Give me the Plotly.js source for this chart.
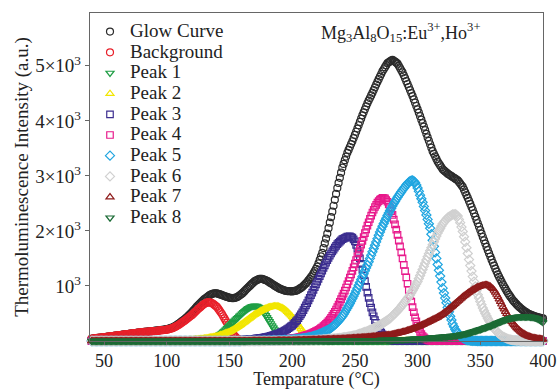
<!DOCTYPE html>
<html>
<head>
<meta charset="utf-8">
<script src="https://cdn.plot.ly/plotly-3.0.1.min.js"></script>
<style>html,body{margin:0;padding:0;background:#fff;}#chart{width:560px;height:390px;}</style>
</head>
<body>
<div id="chart"></div>
<script>
// Temperature (°C)
const temperature = [
40,41,42,43,44,45,46,47,48,49,
50,51,52,53,54,55,56,57,58,59,
60,61,62,63,64,65,66,67,68,69,
70,71,72,73,74,75,76,77,78,79,
80,81,82,83,84,85,86,87,88,89,
90,91,92,93,94,95,96,97,98,99,
100,101,102,103,104,105,106,107,108,109,
110,111,112,113,114,115,116,117,118,119,
120,121,122,123,124,125,126,127,128,129,
130,131,132,133,134,135,136,137,138,139,
140,141,142,143,144,145,146,147,148,149,
150,151,152,153,154,155,156,157,158,159,
160,161,162,163,164,165,166,167,168,169,
170,171,172,173,174,175,176,177,178,179,
180,181,182,183,184,185,186,187,188,189,
190,191,192,193,194,195,196,197,198,199,
200,201,202,203,204,205,206,207,208,209,
210,211,212,213,214,215,216,217,218,219,
220,221,222,223,224,225,226,227,228,229,
230,231,232,233,234,235,236,237,238,239,
240,241,242,243,244,245,246,247,248,249,
250,251,252,253,254,255,256,257,258,259,
260,261,262,263,264,265,266,267,268,269,
270,271,272,273,274,275,276,277,278,279,
280,281,282,283,284,285,286,287,288,289,
290,291,292,293,294,295,296,297,298,299,
300,301,302,303,304,305,306,307,308,309,
310,311,312,313,314,315,316,317,318,319,
320,321,322,323,324,325,326,327,328,329,
330,331,332,333,334,335,336,337,338,339,
340,341,342,343,344,345,346,347,348,349,
350,351,352,353,354,355,356,357,358,359,
360,361,362,363,364,365,366,367,368,369,
370,371,372,373,374,375,376,377,378,379,
380,381,382,383,384,385,386,387,388,389,
390,391,392,393,394,395,396,397,398,399,
400];

const glowCurve = [
40,43,46,49,52,55,58,61,64,67,
70,73,76,79,82,85,88,91,94,97,
100,103,106,109,112,115,118,121,124,127,
130,133,136,139,142,145,148,151,154,157,
160,162,165,167,170,172,175,177,180,182,
185,188,190,193,195,198,201,204,208,211,
215,221,227,234,242,250,262,276,290,305,
320,337,355,373,391,410,431,452,474,497,
520,546,572,598,624,650,672,694,716,738,
760,777,794,811,828,845,853,861,868,868,
866,858,850,842,834,825,817,809,801,793,
785,782,780,778,783,789,795,811,827,844,
860,883,906,929,952,975,997,1019,1041,1063,
1085,1097,1108,1119,1130,1130,1130,1121,1112,1104,
1095,1080,1065,1050,1035,1020,1006,992,978,964,
950,942,934,926,918,910,908,906,904,902,
900,905,910,915,920,935,950,965,980,1002,
1025,1047,1070,1100,1130,1160,1190,1230,1270,1310,
1350,1412,1475,1538,1600,1688,1775,1862,1950,2050,
2150,2250,2350,2458,2565,2672,2780,2872,2965,3058,
3150,3218,3285,3352,3420,3472,3525,3578,3630,3688,
3745,3802,3860,3920,3980,4040,4100,4155,4210,4265,
4320,4368,4415,4462,4510,4560,4610,4660,4710,4758,
4805,4852,4900,4938,4975,5012,5050,5065,5080,5095,
5110,5092,5075,5058,5040,5000,4960,4920,4880,4828,
4775,4722,4670,4615,4560,4505,4450,4390,4330,4270,
4210,4148,4085,4022,3960,3895,3830,3765,3700,3638,
3575,3512,3450,3402,3355,3308,3260,3225,3190,3155,
3120,3100,3080,3060,3040,3025,3010,2995,2980,2965,
2950,2935,2920,2890,2860,2830,2800,2750,2700,2650,
2600,2545,2490,2435,2380,2320,2260,2200,2140,2078,
2015,1952,1890,1830,1770,1710,1650,1592,1535,1478,
1420,1368,1315,1262,1210,1165,1120,1075,1030,990,
950,910,870,838,805,772,740,715,690,665,
640,620,600,580,560,545,530,515,500,490,
480,470,460,452,445,438,430,425,420,415,
410];

const background = [
40,43,46,49,52,55,58,61,64,67,
70,73,76,79,82,85,88,91,94,97,
100,103,106,109,112,115,118,121,124,127,
130,133,136,139,142,145,148,151,154,157,
160,162,164,166,168,170,172,174,176,178,
180,182,185,187,190,192,195,197,200,202,
205,210,216,222,228,238,249,260,272,286,
300,316,332,348,364,380,398,416,434,452,
470,492,514,536,558,580,600,620,640,658,
675,686,697,708,702,696,690,673,655,638,
620,588,555,522,490,450,410,370,330,290,
250,208,165,130,95,72,50,36,22,15,
9,6,4,3,2,1,1,0,0,0,
0,0,0,0,0,0,0,0,0,0,
0,0,0,0,0,0,0,0,0,0,
0,0,0,0,0,0,0,0,0,0,
0,0,0,0,0,0,0,0,0,0,
0,0,0,0,0,0,0,0,0,0,
0,0,0,0,0,0,0,0,0,0,
0,0,0,0,0,0,0,0,0,0,
0,0,0,0,0,0,0,0,0,0,
0,0,0,0,0,0,0,0,0,0,
0,0,0,0,0,0,0,0,0,0,
0,0,0,0,0,0,0,0,0,0,
0,0,0,0,0,0,0,0,0,0,
0,0,0,0,0,0,0,0,0,0,
0,0,0,0,0,0,0,0,0,0,
0,0,0,0,0,0,0,0,0,0,
0,0,0,0,0,0,0,0,0,0,
0,0,0,0,0,0,0,0,0,0,
0,0,0,0,0,0,0,0,0,0,
0,0,0,0,0,0,0,0,0,0,
0,0,0,0,0,0,0,0,0,0,
0,0,0,0,0,0,0,0,0,0,
0,0,0,0,0,0,0,0,0,0,
0,0,0,0,0,0,0,0,0,0,
0];

const peak1 = [
0,0,0,0,0,0,0,0,0,0,
0,0,0,0,0,0,0,0,0,0,
0,0,0,0,0,0,0,0,0,0,
0,0,0,0,0,0,0,0,0,0,
0,0,0,0,0,0,0,0,0,0,
0,0,0,0,0,0,0,0,0,0,
1,1,1,1,1,1,1,2,2,2,
2,2,3,3,3,3,4,4,4,5,
5,6,7,8,9,10,12,14,16,18,
20,23,27,32,38,44,51,58,65,72,
80,95,110,127,145,165,185,207,230,252,
275,297,320,342,365,387,410,432,455,477,
500,520,540,559,578,593,608,619,630,635,
640,636,632,619,605,583,560,530,500,465,
430,392,355,318,280,242,205,172,140,114,
88,69,50,38,26,19,12,8,5,3,
2,1,1,0,0,0,0,0,0,0,
0,0,0,0,0,0,0,0,0,0,
0,0,0,0,0,0,0,0,0,0,
0,0,0,0,0,0,0,0,0,0,
0,0,0,0,0,0,0,0,0,0,
0,0,0,0,0,0,0,0,0,0,
0,0,0,0,0,0,0,0,0,0,
0,0,0,0,0,0,0,0,0,0,
0,0,0,0,0,0,0,0,0,0,
0,0,0,0,0,0,0,0,0,0,
0,0,0,0,0,0,0,0,0,0,
0,0,0,0,0,0,0,0,0,0,
0,0,0,0,0,0,0,0,0,0,
0,0,0,0,0,0,0,0,0,0,
0,0,0,0,0,0,0,0,0,0,
0,0,0,0,0,0,0,0,0,0,
0,0,0,0,0,0,0,0,0,0,
0,0,0,0,0,0,0,0,0,0,
0,0,0,0,0,0,0,0,0,0,
0,0,0,0,0,0,0,0,0,0,
0];

const peak2 = [
0,0,0,0,0,0,0,0,0,0,
0,0,0,0,0,0,0,0,0,0,
0,0,0,0,0,0,0,0,0,0,
0,0,0,0,0,0,0,0,0,0,
0,0,0,0,0,0,0,0,0,0,
1,1,1,1,1,1,1,1,2,2,
2,3,3,4,4,5,5,6,6,7,
8,9,10,11,12,13,14,16,17,19,
20,22,24,26,28,31,33,36,38,41,
44,48,51,55,59,63,67,71,75,80,
84,92,100,108,116,125,133,142,150,158,
165,178,191,205,218,232,247,262,278,294,
310,327,344,361,378,395,412,429,446,463,
480,493,506,519,532,545,557,568,580,590,
600,607,614,620,624,628,630,630,630,626,
620,610,600,588,575,555,534,512,490,465,
440,410,380,350,320,288,255,222,190,164,
137,111,85,68,50,39,28,21,14,10,
7,5,3,2,1,1,0,0,0,0,
0,0,0,0,0,0,0,0,0,0,
0,0,0,0,0,0,0,0,0,0,
0,0,0,0,0,0,0,0,0,0,
0,0,0,0,0,0,0,0,0,0,
0,0,0,0,0,0,0,0,0,0,
0,0,0,0,0,0,0,0,0,0,
0,0,0,0,0,0,0,0,0,0,
0,0,0,0,0,0,0,0,0,0,
0,0,0,0,0,0,0,0,0,0,
0,0,0,0,0,0,0,0,0,0,
0,0,0,0,0,0,0,0,0,0,
0,0,0,0,0,0,0,0,0,0,
0,0,0,0,0,0,0,0,0,0,
0,0,0,0,0,0,0,0,0,0,
0,0,0,0,0,0,0,0,0,0,
0,0,0,0,0,0,0,0,0,0,
0,0,0,0,0,0,0,0,0,0,
0];

const peak3 = [
0,0,0,0,0,0,0,0,0,0,
0,0,0,0,0,0,0,0,0,0,
0,0,0,0,0,0,0,0,0,0,
0,0,0,0,0,0,0,0,0,0,
0,0,0,0,0,0,0,0,0,0,
0,0,0,0,0,0,0,0,0,0,
0,0,0,0,0,0,0,0,0,0,
0,0,0,0,0,0,0,0,0,0,
1,1,1,1,2,2,2,2,3,3,
3,3,4,4,4,4,5,5,5,5,
5,5,6,6,7,7,8,8,9,9,
10,11,12,13,14,16,17,18,19,21,
22,24,26,27,29,31,33,35,37,38,
40,43,46,49,52,56,59,62,66,69,
72,78,85,92,99,106,113,120,126,133,
140,152,164,176,188,200,216,232,248,264,
280,305,330,355,380,415,450,485,520,562,
605,648,690,738,785,832,880,930,980,1030,
1080,1130,1180,1230,1280,1328,1375,1422,1470,1510,
1550,1590,1630,1662,1695,1728,1760,1782,1805,1828,
1850,1861,1872,1884,1895,1898,1900,1890,1880,1845,
1810,1745,1680,1590,1500,1400,1300,1195,1090,985,
880,785,690,605,520,450,380,325,270,228,
185,152,120,98,75,58,42,32,22,16,
10,7,4,3,2,1,1,0,0,0,
0,0,0,0,0,0,0,0,0,0,
0,0,0,0,0,0,0,0,0,0,
0,0,0,0,0,0,0,0,0,0,
0,0,0,0,0,0,0,0,0,0,
0,0,0,0,0,0,0,0,0,0,
0,0,0,0,0,0,0,0,0,0,
0,0,0,0,0,0,0,0,0,0,
0,0,0,0,0,0,0,0,0,0,
0,0,0,0,0,0,0,0,0,0,
0,0,0,0,0,0,0,0,0,0,
0,0,0,0,0,0,0,0,0,0,
0];

const peak4 = [
0,0,0,0,0,0,0,0,0,0,
0,0,0,0,0,0,0,0,0,0,
0,0,0,0,0,0,0,0,0,0,
0,0,0,0,0,0,0,0,0,0,
0,0,0,0,0,0,0,0,0,0,
0,0,0,0,0,0,0,0,0,0,
0,0,0,0,0,0,0,0,0,0,
0,0,0,0,0,0,0,0,0,0,
0,0,0,0,0,0,0,0,0,0,
0,0,0,0,0,0,0,0,0,0,
0,0,0,0,0,0,0,0,0,0,
1,1,1,1,1,2,2,2,2,3,
3,4,4,5,5,6,6,7,7,8,
8,9,9,10,10,11,11,12,12,13,
14,15,16,17,18,20,21,23,24,25,
26,28,29,31,33,35,37,40,42,45,
48,51,55,59,63,67,72,77,83,89,
96,103,110,118,126,135,145,155,166,178,
190,204,218,234,250,270,290,312,335,362,
390,422,455,492,530,572,615,662,710,760,
810,862,915,972,1030,1090,1150,1212,1275,1340,
1405,1472,1540,1610,1680,1750,1820,1890,1960,2028,
2095,2158,2220,2278,2335,2385,2435,2475,2515,2542,
2570,2585,2600,2598,2590,2560,2530,2480,2430,2360,
2290,2205,2120,2025,1930,1825,1720,1610,1500,1385,
1270,1155,1040,930,820,718,615,522,430,355,
280,222,165,126,88,65,42,30,18,12,
7,5,3,2,1,1,0,0,0,0,
0,0,0,0,0,0,0,0,0,0,
0,0,0,0,0,0,0,0,0,0,
0,0,0,0,0,0,0,0,0,0,
0,0,0,0,0,0,0,0,0,0,
0,0,0,0,0,0,0,0,0,0,
0,0,0,0,0,0,0,0,0,0,
0,0,0,0,0,0,0,0,0,0,
0,0,0,0,0,0,0,0,0,0,
0];

const peak5 = [
0,0,0,0,0,0,0,0,0,0,
0,0,0,0,0,0,0,0,0,0,
0,0,0,0,0,0,0,0,0,0,
0,0,0,0,0,0,0,0,0,0,
0,0,0,0,0,0,0,0,0,0,
0,0,0,0,0,0,0,0,0,0,
0,0,0,0,0,0,0,0,0,0,
0,0,0,0,0,0,0,0,0,0,
0,0,0,0,0,0,0,0,0,0,
0,0,0,0,0,0,0,0,0,0,
0,0,0,0,0,0,0,0,0,0,
0,0,0,0,0,0,0,0,0,0,
1,1,1,1,1,1,1,1,2,2,
2,2,3,3,4,4,5,5,6,6,
7,7,8,8,9,9,10,11,12,13,
14,15,16,17,18,20,21,22,24,25,
26,28,30,32,34,37,39,42,45,48,
52,56,60,65,70,76,82,89,96,104,
112,121,130,140,150,161,172,184,196,208,
220,237,255,275,295,317,340,365,390,420,
450,485,520,560,600,640,680,725,770,815,
860,910,960,1012,1065,1118,1170,1222,1275,1328,
1380,1440,1500,1560,1620,1680,1740,1800,1860,1920,
1980,2032,2085,2135,2185,2232,2280,2325,2370,2412,
2455,2495,2535,2572,2610,2645,2680,2712,2745,2775,
2805,2835,2860,2885,2905,2915,2918,2905,2880,2835,
2780,2720,2650,2585,2520,2445,2370,2290,2210,2130,
2050,1940,1830,1720,1610,1500,1390,1285,1180,1070,
960,870,780,695,610,530,450,380,310,260,
210,175,140,115,90,72,55,42,30,22,
15,11,7,5,3,2,1,1,0,0,
0,0,0,0,0,0,0,0,0,0,
0,0,0,0,0,0,0,0,0,0,
0,0,0,0,0,0,0,0,0,0,
0,0,0,0,0,0,0,0,0,0,
0,0,0,0,0,0,0,0,0,0,
0];

const peak6 = [
0,0,0,0,0,0,0,0,0,0,
0,0,0,0,0,0,0,0,0,0,
0,0,0,0,0,0,0,0,0,0,
0,0,0,0,0,0,0,0,0,0,
0,0,0,0,0,0,0,0,0,0,
0,0,0,0,0,0,0,0,0,0,
0,0,0,0,0,0,0,0,0,0,
0,0,0,0,0,0,0,0,0,0,
0,0,0,0,0,0,0,0,0,0,
0,0,0,0,0,0,0,0,0,0,
0,0,0,0,0,0,0,0,0,0,
0,0,0,0,0,0,0,0,0,0,
0,0,0,0,0,0,0,0,0,0,
0,0,0,0,0,0,0,0,0,0,
1,1,1,1,2,2,2,2,3,3,
3,3,4,4,4,4,5,5,5,5,
5,6,6,7,7,8,8,9,9,10,
10,11,11,12,13,14,15,16,17,18,
20,21,23,24,26,28,30,32,34,36,
38,40,42,44,46,48,50,52,55,57,
60,64,68,72,76,80,84,88,92,96,
100,108,116,124,132,140,148,156,164,172,
180,190,200,211,222,233,245,256,268,279,
290,304,318,333,348,364,380,395,410,433,
456,479,502,526,550,575,600,629,658,688,
718,747,776,806,836,876,916,956,996,1038,
1080,1135,1190,1245,1300,1358,1415,1472,1530,1585,
1640,1695,1750,1802,1855,1908,1960,2002,2045,2088,
2130,2158,2185,2212,2240,2255,2270,2285,2300,2302,
2305,2290,2270,2210,2150,2070,1990,1895,1800,1695,
1590,1480,1370,1270,1170,1080,990,915,840,780,
720,660,600,550,500,455,410,370,330,295,
260,230,200,175,150,130,110,95,80,68,
56,47,38,31,25,20,16,13,10,8,
6,5,4,3,2,1,1,0,0,0,
0,0,0,0,0,0,0,0,0,0,
0];

const peak7 = [
0,0,0,0,0,0,0,0,0,0,
0,0,0,0,0,0,0,0,0,0,
0,0,0,0,0,0,0,0,0,0,
0,0,0,0,0,0,0,0,0,0,
0,0,0,0,0,0,0,0,0,0,
0,0,0,0,0,0,0,0,0,0,
0,0,0,0,0,0,0,0,0,0,
0,0,0,0,0,0,0,0,0,0,
0,0,0,0,0,0,0,0,0,0,
0,0,0,0,0,0,0,0,0,0,
0,0,0,0,0,0,0,0,0,0,
0,0,0,0,0,0,0,0,0,0,
1,1,1,1,2,2,2,2,3,3,
3,3,4,4,4,4,5,5,5,5,
5,5,6,6,6,7,7,7,8,8,
8,8,9,9,9,9,10,10,10,10,
10,11,11,12,13,14,14,15,16,17,
17,18,19,20,20,21,22,23,23,24,
25,26,26,27,28,29,29,30,31,32,
32,33,34,35,35,36,37,38,38,39,
40,41,43,44,46,47,49,50,52,53,
55,56,58,59,61,62,64,65,67,68,
70,72,74,76,79,81,83,85,88,90,
92,94,97,99,101,103,106,108,110,115,
120,125,130,135,140,146,152,157,163,169,
175,182,190,197,205,212,220,229,238,246,
255,265,275,285,295,306,318,329,340,351,
362,374,385,396,408,419,430,445,460,475,
490,508,525,542,560,580,600,620,640,660,
680,700,720,740,760,780,800,818,835,852,
870,885,900,915,930,942,955,968,980,988,
995,1002,1010,1015,1020,1016,1012,1001,990,970,
950,918,885,845,805,760,715,668,620,578,
535,495,455,420,385,352,320,292,265,240,
215,195,175,158,140,126,112,101,90,82,
73,66,60,55,50,46,42,39,36,33,
30];

const peak8 = [
0,0,0,0,0,0,0,0,0,0,
0,0,0,0,0,0,0,0,0,0,
0,0,0,0,0,0,0,0,0,0,
0,0,0,0,0,0,0,0,0,0,
0,0,0,0,0,0,0,0,0,0,
0,0,0,0,0,0,0,0,0,0,
0,0,0,0,0,0,0,0,0,0,
0,0,0,0,0,0,0,0,0,0,
0,0,0,0,0,0,0,0,0,0,
0,0,0,0,0,0,0,0,0,0,
0,0,0,0,0,0,0,0,0,0,
1,1,1,1,1,1,1,1,1,1,
1,1,1,1,1,2,2,2,2,2,
2,2,2,2,2,2,2,2,2,2,
2,2,2,2,2,3,3,3,3,3,
3,3,3,3,3,3,3,3,3,3,
3,3,3,4,4,4,4,4,4,4,
4,4,4,5,5,5,5,5,5,5,
5,5,5,5,6,6,6,6,6,6,
6,6,6,7,7,7,7,7,7,7,
7,7,7,7,7,8,8,8,8,8,
8,8,8,8,9,9,9,9,10,10,
10,10,11,11,12,12,13,13,14,14,
15,15,16,16,17,17,18,18,19,19,
20,21,22,23,24,25,26,27,28,29,
30,31,32,33,34,35,36,37,38,39,
40,41,43,44,46,47,49,50,52,53,
55,57,59,61,63,65,67,69,71,73,
75,77,79,81,83,85,87,89,91,93,
95,99,103,107,111,116,121,126,131,136,
140,147,154,161,168,175,182,189,196,203,
210,218,226,234,242,250,258,266,274,282,
290,300,310,320,330,340,349,358,367,376,
385,393,400,408,415,420,424,428,432,435,
438,439,440,441,441,442,442,442,442,441,
438,435,431,426,420,412,400,387,372,357,
340];

const seriesNames = ['Glow Curve','Background','Peak 1','Peak 2','Peak 3','Peak 4','Peak 5','Peak 6','Peak 7','Peak 8'];
const seriesValues = [glowCurve, background, peak1, peak2, peak3, peak4, peak5, peak6, peak7, peak8];
const seriesColors = ['#2b2b2b','#e8202a','#1f9e45','#f2e600','#3b2d8f','#e8198b','#1fa5e0','#d0d0d0','#8e1b1b','#1b6b35'];
const seriesSymbols = ['circle-open','circle-open','triangle-down-open','triangle-up-open','square-open','square-open','diamond-open','diamond-open','triangle-up-open','triangle-down-open'];
const seriesSizes = [7,7,7,7,6.5,6.5,7,7,7,7];

const yTickVals = [1000,2000,3000,4000,5000];
const yTickText = ['10<sup>3</sup>','2×10<sup>3</sup>','3×10<sup>3</sup>','4×10<sup>3</sup>','5×10<sup>3</sup>'];
const xTickVals = [50,100,150,200,250,300,350,400];

const serif = 'Liberation Serif';

const traces = seriesNames.map((nm, i) => ({
  type: 'scatter',
  mode: 'markers',
  x: temperature,
  y: seriesValues[i],
  name: '<span style="font-size:19px">' + nm + '</span>',
  cliponaxis: false,
  marker: {
    symbol: seriesSymbols[i],
    size: seriesSizes[i],
    color: seriesColors[i],
    line: {color: seriesColors[i], width: 1.2}
  }
}));

const layout = {
  width: 560, height: 390,
  margin: {l: 90, r: 17, t: 13, b: 49},
  paper_bgcolor: '#fff', plot_bgcolor: '#fff',
  font: {family: serif, color: '#222', size: 19},
  showlegend: true,
  legend: {
    x: 0, y: 0.99, xanchor: 'left', yanchor: 'top',
    bgcolor: 'rgba(0,0,0,0)', borderwidth: 0,
    font: {family: serif, size: 13.6, color: '#222'},
    tracegroupgap: 0
  },
  xaxis: {
    range: [38.8, 400],
    tickmode: 'array', tickvals: xTickVals,
    ticks: 'outside', ticklen: 3, tickcolor: '#666',
    tickfont: {family: serif, size: 18, color: '#222'},
    showline: true, linecolor: '#666', linewidth: 1.2, mirror: true,
    showgrid: false, zeroline: false,
    title: {text: 'Temparature (°C)', standoff: 4, font: {family: serif, size: 18, color: '#222'}}
  },
  yaxis: {
    range: [0, 5960],
    tickmode: 'array', tickvals: yTickVals, ticktext: yTickText,
    ticks: 'outside', ticklen: 4, tickcolor: '#666',
    tickfont: {family: serif, size: 19, color: '#222'},
    showline: true, linecolor: '#666', linewidth: 1.2, mirror: true,
    showgrid: false, zeroline: false,
    title: {text: 'Thermoluminescence Intensity (a.u.)', font: {family: serif, size: 19, color: '#222'}}
  },
  annotations: [{
    xref: 'paper', yref: 'paper', x: 0.687, y: 0.942,
    xanchor: 'center', yanchor: 'middle', showarrow: false,
    text: 'Mg<sub>3</sub>Al<sub>8</sub>O<sub>15</sub>:Eu<sup>3+</sup>,Ho<sup>3+</sup>',
    font: {family: serif, size: 18, color: '#222'}
  }]
};

Plotly.newPlot('chart', traces, layout, {displayModeBar: false, staticPlot: true});
</script>
</body>
</html>
